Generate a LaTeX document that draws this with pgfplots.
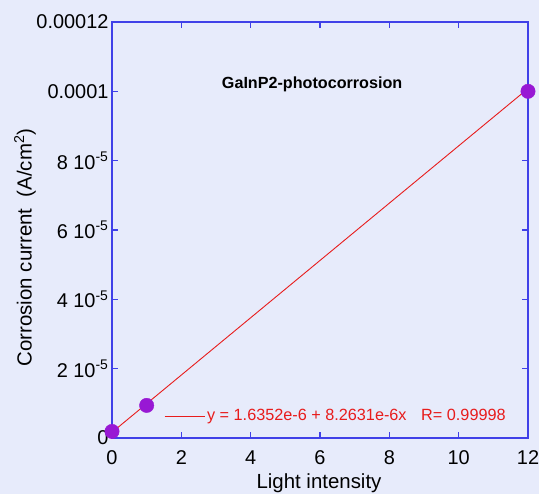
\documentclass[border=0pt]{standalone}
\usepackage{fontspec}
\setmainfont{Liberation Sans}
\usepackage{pgfplots}
\pgfplotsset{compat=1.18}

\definecolor{bgblue}{RGB}{231,235,251}
\definecolor{axisblue}{RGB}{64,64,232}
\definecolor{dotpurple}{RGB}{152,24,212}
\definecolor{fitred}{RGB}{232,28,28}

\begin{document}
\begin{tikzpicture}
\useasboundingbox (0,0) rectangle (539bp,494bp);
\fill[bgblue] (0,0) rectangle (539bp,494bp);
\begin{axis}[
    at={(112bp,56bp)}, anchor=south west,
    width=416bp, height=416bp, scale only axis,
    xmin=0, xmax=12, ymin=0, ymax=1.2e-4,
    axis line style={axisblue, line width=1.3bp},
    tick style={axisblue, line width=1.1bp},
    tick align=inside, major tick length=6bp,
    xtick={0,2,...,12},
    ytick={0,2e-5,4e-5,6e-5,8e-5,1e-4,1.2e-4},
    yticklabels={0, 2 10\textsuperscript{-5}, 4 10\textsuperscript{-5},
        6 10\textsuperscript{-5}, 8 10\textsuperscript{-5}, 0.0001, 0.00012},
    scaled y ticks=false,
    /pgf/number format/assume math mode=true,
    tick label style={font=\fontsize{20}{23}\selectfont, black},
    xticklabel style={yshift=-9bp},
    label style={font=\fontsize{20.5}{24}\selectfont},
    xlabel={Light intensity},
    xlabel style={at={(axis description cs:0.4976,-0.0865)}, anchor=north, inner sep=0pt},
    ylabel={Corrosion current\ \ (A/cm\textsuperscript{2})},
    ylabel style={at={(axis description cs:-0.209,0.458)}, anchor=center, inner sep=0pt},
    legend style={at={(rel axis cs:0.125,0.0529)}, anchor=west, draw=none, fill=none,
        font=\fontsize{16.3}{19}\selectfont, text=fitred, inner sep=0pt,
        nodes={inner sep=2bp}},
    legend cell align=left,
    clip=false,
]
% linear fit
\addplot[fitred, line width=0.9bp,
    legend image code/.code={\draw[fitred, line width=0.9bp] (0bp,0bp) -- (40bp,0bp);}]
    coordinates {(0,1.6352e-6)(12,1.00793e-4)};
\addlegendentry{y = 1.6352e-6 + 8.2631e-6x\hspace{0.9em}R= 0.99998}
% measured points
\addplot[only marks, mark=*, mark size=7.2bp,
    mark options={fill=dotpurple, draw=dotpurple}, forget plot]
    coordinates {(0,1.9e-6)(1,9.4e-6)(12,1.0e-4)};
\node[font=\bfseries\fontsize{16.2}{19}\selectfont] at (rel axis cs:0.481,0.851)
    {GaInP2-photocorrosion};
\end{axis}
\end{tikzpicture}
\end{document}
